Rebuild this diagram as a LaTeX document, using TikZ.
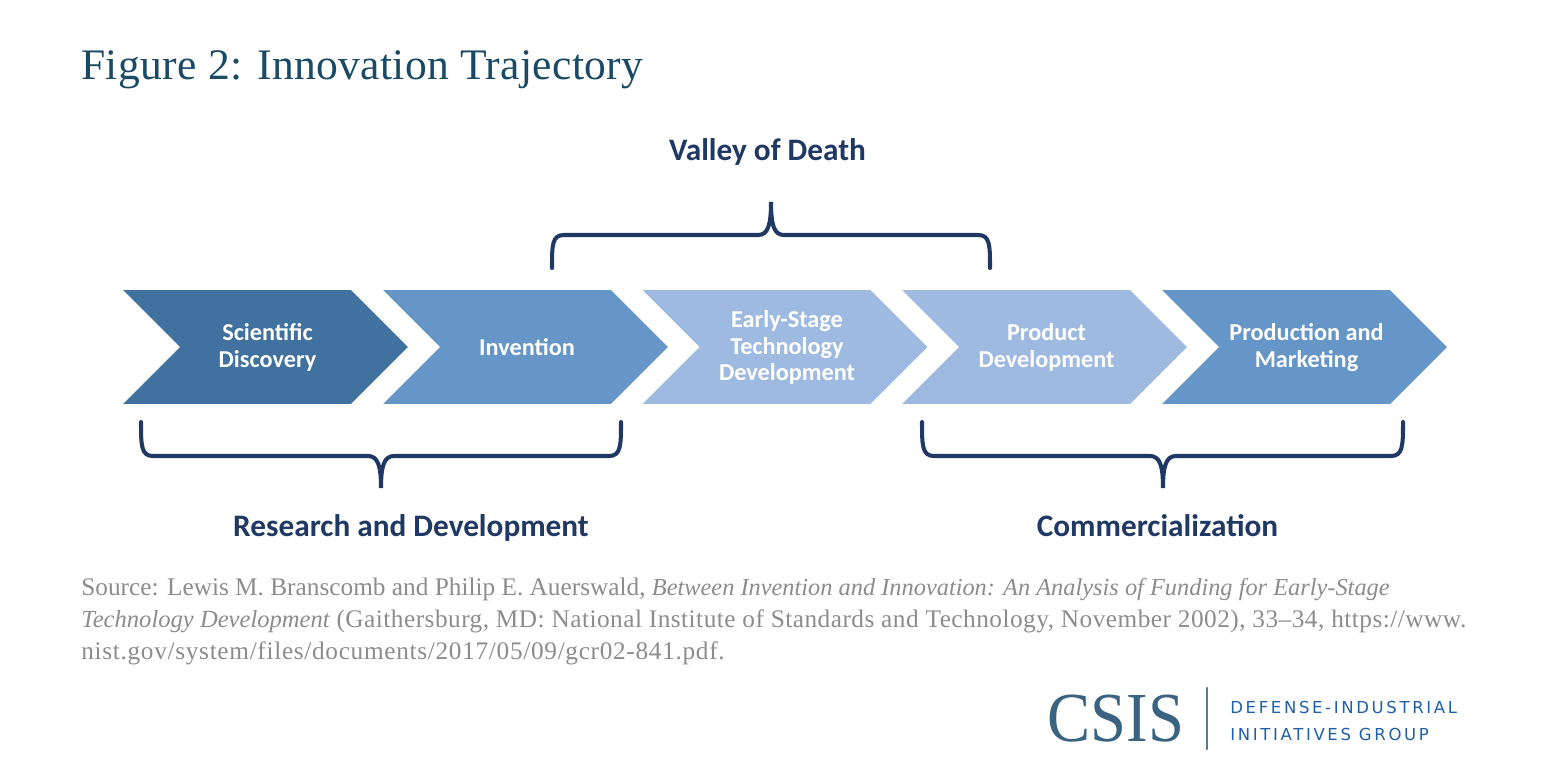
\documentclass[tikz,border=0pt]{standalone}
\usepackage{fontspec}
\setmainfont{Liberation Serif}
\newfontfamily\labelfont{Carlito}
\newfontfamily\groupfont[LetterSpace=16]{DejaVu Sans}
\newfontfamily\logofont[FakeStretch=0.92]{Liberation Serif}
\newfontfamily\titlefont[LetterSpace=0.8]{Liberation Serif}
\newfontfamily\sourcewide[LetterSpace=1.9]{Liberation Serif}
\newfontfamily\sourcewider[LetterSpace=2.7]{Liberation Serif}
\usetikzlibrary{shapes,positioning}
\definecolor{TitleBlue}{HTML}{1B4A66}
\definecolor{BraceBlue}{HTML}{1F3864}
\definecolor{DarkStep}{HTML}{41719F}
\definecolor{MidStep}{HTML}{6695C7}
\definecolor{PaleStep}{HTML}{9FBAE0}
\definecolor{SourceGray}{HTML}{8C8C8C}
\definecolor{LogoBlue}{HTML}{3A6382}
\definecolor{GroupBlue}{HTML}{1F5FA8}

\begin{document}
\begin{tikzpicture}[x=0.02cm, y=-0.02cm]
	\tikzstyle{Step}	= [signal, signal from=west, signal to=east, signal pointer angle=90, minimum width=5.7cm, minimum height=2.28cm, inner sep=0pt, outer sep=0pt]
	\tikzstyle{StepText}	= [text=white, align=center, inner sep=0pt, font=\labelfont\bfseries\fontsize{13.8}{15.2}\selectfont]
	\tikzstyle{Dark}	= [fill=DarkStep]
	\tikzstyle{Mid}		= [fill=MidStep]
	\tikzstyle{Pale}	= [fill=PaleStep]
	\tikzstyle{Brace}	= [line width=2.3pt, BraceBlue, line cap=round]
	\tikzstyle{Phase}	= [anchor=base, inner sep=0pt, text=BraceBlue, font=\labelfont\bfseries\fontsize{17.8}{20}\selectfont]

	\useasboundingbox (0,0) rectangle (1550,778);

	\node (title) at (81,79) [anchor=base west, text=TitleBlue, inner sep=0pt, font=\titlefont\fontsize{24.8}{28}\selectfont] {Figure 2: Innovation Trajectory};

	\node (s1) at (265.5,347) [Step][Dark] {};
	\node (s2) at (525.5,347) [Step][Mid] {};
	\node (s3) at (785,347) [Step][Pale] {};
	\node (s4) at (1044.5,347) [Step][Pale] {};
	\node (s5) at (1304.5,347) [Step][Mid] {};

	\node (t1) at (267.5,347.5) [StepText] {Scientific\\Discovery};
	\node (t2) at (527,347) [StepText] {Invention};
	\node (t3) at (787,347.5) [StepText] {Early-Stage\\Technology\\Development};
	\node (t4) at (1046.5,347.5) [StepText] {Product\\Development};
	\node (t5) at (1306.5,347.5) [StepText] {Production and\\Marketing};

	% valley brace
	\coordinate (vl) at (552,268);
	\coordinate (vm) at (771,202);
	\coordinate (vr) at (990,268);
	\draw [Brace] (vl) .. controls (552,245) and (552,235) .. (564,235) -- (758,235) .. controls (768,235) and (771,225) .. (vm) .. controls (771,225) and (774,235) .. (784,235) -- (978,235) .. controls (990,235) and (990,245) .. (vr);
	\node (valley) at (767.5,160) [Phase] {Valley of Death};

	% research brace
	\coordinate (rl) at (141,422);
	\coordinate (rm) at (381,488);
	\coordinate (rr) at (621,422);
	\draw [Brace] (rl) .. controls (141,445) and (141,456) .. (153,456) -- (368,456) .. controls (378,456) and (381,466) .. (rm) .. controls (381,466) and (384,456) .. (394,456) -- (609,456) .. controls (621,456) and (621,445) .. (rr);
	\node (research) at (411,536) [Phase] {Research and Development};

	% commercial brace
	\coordinate (cl) at (922,422);
	\coordinate (cm) at (1163,488);
	\coordinate (cr) at (1403,422);
	\draw [Brace] (cl) .. controls (922,445) and (922,456) .. (934,456) -- (1150,456) .. controls (1160,456) and (1163,466) .. (cm) .. controls (1163,466) and (1166,456) .. (1176,456) -- (1391,456) .. controls (1403,456) and (1403,445) .. (cr);
	\node (commercial) at (1157.5,536) [Phase] {Commercialization};

	\node (source) at (81,578) [anchor=north west, inner sep=0pt, text=SourceGray, align=left, font=\fontsize{14.4}{18.2}\selectfont] {Source: Lewis M. Branscomb and Philip E. Auerswald, {\fontsize{13.87}{18.2}\selectfont\textit{Between Invention and Innovation: An Analysis of Funding for Early-Stage}}\\{\fontsize{14}{18.2}\selectfont\textit{Technology Development}} {\sourcewide (Gaithersburg, MD: National Institute of Standards and Technology, November 2002), 33–34, https://www.}\\{\sourcewider nist.gov/system/files/documents/2017/05/09/gcr02-841.pdf.}};

	\node (csis) at (1116,719) [text=LogoBlue, inner sep=0pt, font=\logofont\fontsize{40}{44}\selectfont] {CSIS};
	\coordinate (bt) at (1207,688);
	\coordinate (bb) at (1207,749);
	\draw (bt) -- (bb) [line width=1.3pt, LogoBlue!85, line cap=round];
	\node (group) at (1230,721) [anchor=west, inner sep=0pt, text=GroupBlue, align=left, font=\groupfont\fontsize{9.4}{15}\selectfont] {DEFENSE-INDUSTRIAL\\INITIATIVES GROUP};
\end{tikzpicture}
\end{document}
